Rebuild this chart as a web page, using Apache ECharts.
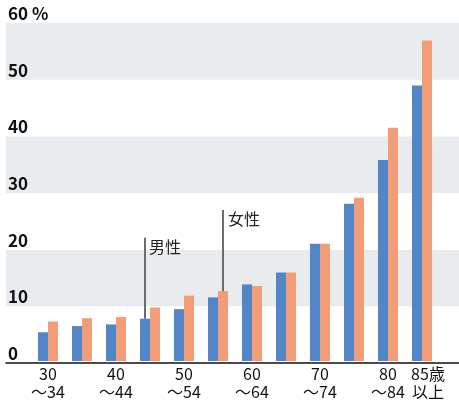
<!DOCTYPE html>
<html>
<head>
<meta charset="utf-8">
<script src="https://cdn.jsdelivr.net/npm/echarts@6/dist/echarts.min.js"></script>
<style>
  html, body { margin: 0; padding: 0; background: #fff; }
  #chart { width: 459px; height: 401px; }
</style>
</head>
<body>
<div id="chart"></div>
<script>
// 年齢階級
var categories = ['30\n～34', '', '40\n～44', '', '50\n～54', '', '60\n～64', '', '70\n～74', '', '80\n～84', '85歳\n以上'];
// 男性 / 女性 (%)
var maleValues = [5.1, 6.2, 6.5, 7.5, 9.2, 11.3, 13.6, 15.7, 20.8, 27.9, 35.7, 48.9];
var femaleValues = [7.0, 7.6, 7.8, 9.5, 11.6, 12.4, 13.3, 15.7, 20.8, 29.0, 41.4, 56.9];
var yTicks = [0, 10, 20, 30, 40, 50, 60];

var font = '"Noto Sans CJK JP", "Noto Sans", sans-serif';
var chart = echarts.init(document.getElementById('chart'));

chart.setOption({
  animation: false,
  backgroundColor: '#fff',
  textStyle: { fontFamily: font },
  grid: [
    { left: 6, right: 0, top: 23, bottom: 38 },   // 背景の帯
    { left: 31, right: 20, top: 23, bottom: 38 }  // 棒
  ],
  xAxis: [
    {
      gridIndex: 0, type: 'value', min: 0, max: 1,
      axisLine: { show: true, onZero: false, lineStyle: { color: '#111', width: 1.5 } },
      axisTick: { show: false }, axisLabel: { show: false }, splitLine: { show: false }
    },
    {
      gridIndex: 1, type: 'category', data: categories,
      axisLine: { show: false }, axisTick: { show: false },
      axisLabel: {
        interval: 0, margin: 4, color: '#111', fontSize: 16, lineHeight: 18,
        fontFamily: font,
        formatter: function (v, i) {
          if (i === categories.length - 1) {
            return v.split('\n').map(function (s) { return '{last|' + s + '}'; }).join('\n');
          }
          return v;
        },
        rich: {
          last: { fontSize: 16, lineHeight: 18, color: '#111', fontFamily: font, padding: [0, 0, 0, 12] }
        }
      }
    }
  ],
  yAxis: [
    {
      gridIndex: 0, type: 'value', min: yTicks[0], max: yTicks[yTicks.length - 1], interval: 10,
      axisLine: { show: false }, axisTick: { show: false },
      splitLine: { show: false },
      splitArea: { show: true, areaStyle: { color: ['#ffffff', '#E9ECEF'] } },
      axisLabel: {
        inside: true, margin: 2, align: 'left', verticalAlign: 'bottom',
        padding: [0, 0, 1, 0],
        color: '#111', fontSize: 17, fontWeight: 'bold', fontFamily: font,
        formatter: function (v) { return v === 60 ? '60 %' : String(v); }
      }
    },
    {
      gridIndex: 1, type: 'value', min: 0, max: 60, show: false
    }
  ],
  series: [
    {
      name: '男性', type: 'bar', xAxisIndex: 1, yAxisIndex: 1,
      data: maleValues, barWidth: 10, barGap: '0%',
      itemStyle: { color: '#5286C7' },
      markLine: {
        silent: true, symbol: 'none', label: { show: false },
        lineStyle: { color: '#6b6b6b', width: 2, type: 'solid' },
        data: [[{ coord: [3, maleValues[3]] }, { coord: [3, 21.9] }]]
      },
      markPoint: {
        silent: true, symbol: 'circle', symbolSize: 0,
        label: { show: true, position: 'right', distance: 4, formatter: '男性', color: '#222', fontSize: 16, fontFamily: font },
        data: [{ coord: [3, 20.2] }]
      }
    },
    {
      name: '女性', type: 'bar', xAxisIndex: 1, yAxisIndex: 1,
      data: femaleValues, barWidth: 10, barGap: '0%',
      itemStyle: { color: '#F29D78' },
      markLine: {
        silent: true, symbol: 'none', label: { show: false },
        lineStyle: { color: '#6b6b6b', width: 2, type: 'solid' },
        data: [[{ coord: [5, femaleValues[5]] }, { coord: [5, 26.8] }]]
      },
      markPoint: {
        silent: true, symbol: 'circle', symbolSize: 0,
        label: { show: true, position: 'right', distance: 5, formatter: '女性', color: '#222', fontSize: 16, fontFamily: font },
        data: [{ coord: [5, 25.3] }]
      }
    }
  ]
});
</script>
</body>
</html>
